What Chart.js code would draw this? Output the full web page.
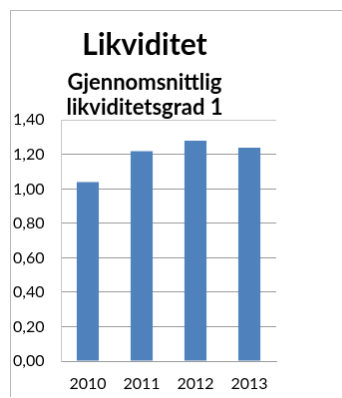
<!DOCTYPE html>
<html lang="no">
<head>
  <meta charset="UTF-8">
  <title>Likviditet</title>
  <script src="https://cdn.jsdelivr.net/npm/chart.js"></script>
  <style>
    html, body { margin: 0; padding: 0; overflow: hidden; background: #fff; }
    #likviditet {
      position: absolute;
      left: 10px;
      top: 10px;
      border-left: 1px solid #b8b8b8;
      border-top: 1px solid #b8b8b8;
    }
  </style>
</head>
<body>
  <canvas id="likviditet" width="340" height="387"></canvas>

  <script>
    // Data
    const years = ['2010', '2011', '2012', '2013'];
    const likviditetsgrad = [1.04, 1.22, 1.28, 1.24];
    const yMin = 0;
    const yMax = 1.4;
    const yStep = 0.2;

    const ctx = document.getElementById('likviditet').getContext('2d');
    new Chart(ctx, {
      type: 'bar',
      data: {
        labels: years,
        datasets: [{
          label: 'Gjennomsnittlig likviditetsgrad 1',
          data: likviditetsgrad,
          backgroundColor: '#4f81bd',
          borderWidth: 0,
          barPercentage: 0.41,
          categoryPercentage: 1.0,
        }],
      },
      options: {
        responsive: false,
        animation: false,
        layout: {
          padding: { left: 2, right: 74, top: 0, bottom: 0 },
        },
        plugins: {
          legend: { display: false },
          tooltip: { enabled: false },
          title: {
            display: true,
            text: 'Likviditet',
            color: '#000',
            font: { family: 'Lato', size: 30, weight: 'bold', lineHeight: 1.2 },
            padding: { top: 16, bottom: 4.5 },
          },
          subtitle: {
            display: true,
            text: ['Gjennomsnittlig', 'likviditetsgrad 1'],
            color: '#000',
            font: { family: 'Lato', size: 22, weight: 'bold', lineHeight: 1.11 },
            padding: { top: 3.5, bottom: 0.5 },
          },
        },
        scales: {
          x: {
            grid: { display: false, drawTicks: false },
            border: { display: true, color: '#9a9a9a', width: 1 },
            afterFit: scale => { scale.height = 36; },
            ticks: {
              color: '#000',
              font: { family: 'Lato', size: 16 },
              padding: 13,
            },
          },
          y: {
            min: yMin,
            max: yMax,
            grid: {
              drawTicks: false,
              color: ctx => (ctx.tick && ctx.tick.value >= yMax ? '#c4c4c4' : '#9a9a9a'),
            },
            border: { display: true, color: '#c8c8c8', width: 1 },
            afterFit: scale => { scale.width = 48; },
            ticks: {
              stepSize: yStep,
              crossAlign: 'far',
              color: '#000',
              font: { family: 'Lato', size: 16 },
              callback: value => value.toFixed(2).replace('.', ','),
            },
          },
        },
      },
    });
  </script>
</body>
</html>
